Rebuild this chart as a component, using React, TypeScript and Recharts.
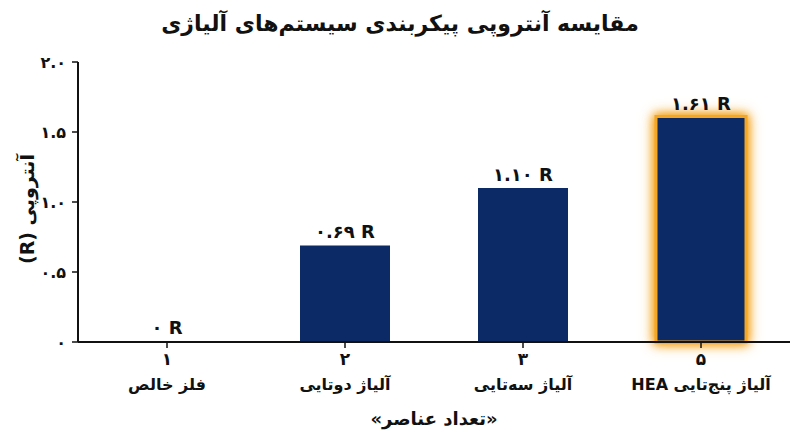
import React from 'react';
import { BarChart, Bar, XAxis, YAxis, LabelList, Cell } from 'recharts';

const elementCounts = ['۱', '۲', '۳', '۵'];
const categoryNames = ['فلز خالص', 'آلیاژ دوتایی', 'آلیاژ سه‌تایی', 'آلیاژ پنج‌تایی HEA'];
const entropyValues = [0, 0.69, 1.1, 1.61];
const valueLabels = ['۰ R', '۰.۶۹ R', '۱.۱۰ R', '۱.۶۱ R'];
const yTicks = [0, 0.5, 1, 1.5, 2];
const yTickLabels = ['۰', '۰.۵', '۱.۰', '۱.۵', '۲.۰'];

const data = entropyValues.map((v, i) => ({
  n: elementCounts[i],
  entropy: v,
  label: valueLabels[i],
}));

const FONT = '"DejaVu Sans", "Noto Sans", sans-serif';
const NAVY = '#0b2a66';
const GLOW = '#f5a623';

const XTick = (props: any) => {
  const { x, y, payload, index } = props;
  return (
    <g transform={`translate(${x},${y})`}>
      <text x={0} y={15} textAnchor="middle" fontSize={17} fontWeight="bold" fill="#111" fontFamily={FONT}>
        {payload.value}
      </text>
      <text x={0} y={40} textAnchor="middle" direction="rtl" fontSize={16} fontWeight="bold" fill="#111" fontFamily={FONT}>
        {categoryNames[index]}
      </text>
    </g>
  );
};

export default function App() {
  const last = data.length - 1;
  return (
    <div style={{ position: 'absolute', left: 0, top: 0, width: 800, height: 447, background: '#fff', fontFamily: FONT }}>
      <div
        dir="rtl"
        style={{ position: 'absolute', left: 0, top: 11, width: 800, textAlign: 'center', fontSize: 22, fontWeight: 'bold', color: '#111' }}
      >
        مقایسه آنتروپی پیکربندی سیستم‌های آلیاژی
      </div>
      <div
        dir="rtl"
        style={{
          position: 'absolute', left: 27, top: 210, width: 200, marginLeft: -100, marginTop: -12,
          textAlign: 'center', fontSize: 19, fontWeight: 'bold', color: '#111', transform: 'rotate(-90deg)',
        }}
      >
        آنتروپی (R)
      </div>
      <div
        dir="rtl"
        style={{ position: 'absolute', left: 78, top: 408, width: 712, textAlign: 'center', fontSize: 18, fontWeight: 'bold', color: '#111' }}
      >
        «تعداد عناصر»
      </div>
      <BarChart width={800} height={447} data={data} margin={{ top: 62, right: 10, bottom: 75, left: 18 }} style={{ position: 'absolute', left: 0, top: 0 }}>
        <YAxis
          type="number"
          domain={[0, 2]}
          ticks={yTicks}
          width={60}
          tickFormatter={(v: number) => yTickLabels[yTicks.indexOf(v)]}
          axisLine={{ stroke: '#111', strokeWidth: 2 }}
          tickLine={{ stroke: '#111', strokeWidth: 1.5 }}
          tickSize={6}
          tickMargin={6}
          tick={{ fontSize: 16, fontWeight: 'bold', fill: '#111', fontFamily: FONT }}
        />
        <XAxis
          dataKey="n"
          height={30}
          axisLine={{ stroke: '#111', strokeWidth: 2 }}
          tickLine={{ stroke: '#111', strokeWidth: 1.5 }}
          tickSize={6}
          tick={<XTick />}
          interval={0}
        />
        <Bar dataKey="entropy" barSize={90} fill={NAVY} minPointSize={1} isAnimationActive={false}>
          {data.map((d, i) => (
            <Cell
              key={`c-${i}`}
              fill={d.entropy === 0 ? 'none' : NAVY}
              stroke={i === last ? GLOW : 'none'}
              strokeWidth={i === last ? 3 : 0}
              style={i === last ? { filter: `drop-shadow(0 0 4px ${GLOW}) drop-shadow(0 0 6px ${GLOW})` } : undefined}
            />
          ))}
          <LabelList
            dataKey="label"
            position="top"
            offset={7}
            style={{ fontSize: 18, fontWeight: 'bold', fill: '#111', fontFamily: FONT }}
          />
        </Bar>
      </BarChart>
    </div>
  );
}
